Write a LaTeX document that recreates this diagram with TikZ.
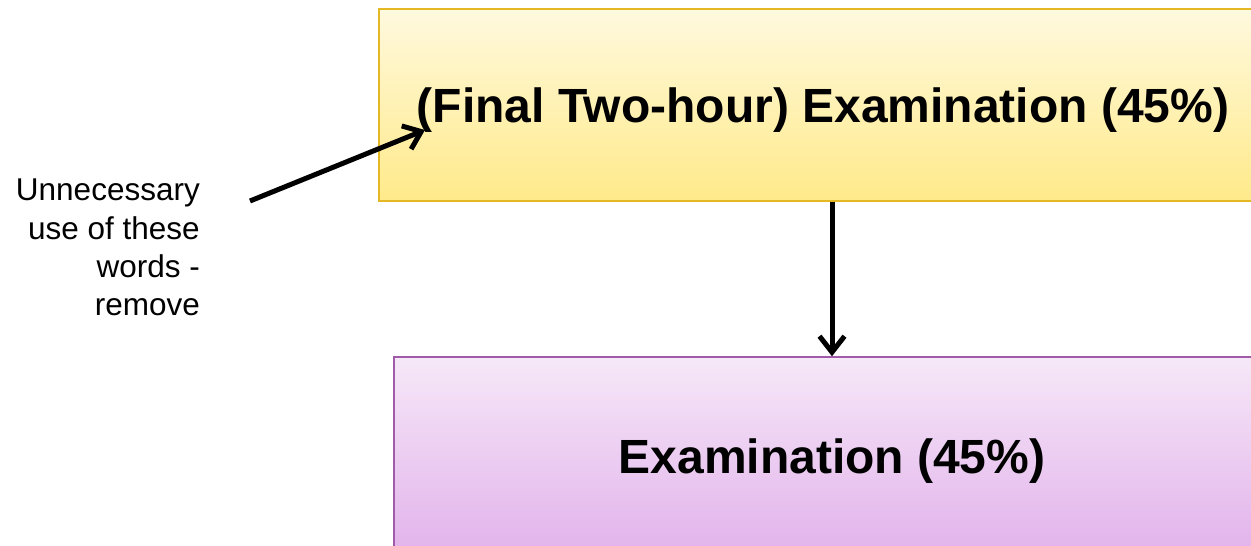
\documentclass[tikz,border=0pt]{standalone}
\usepackage{fontspec}
\setmainfont{Liberation Sans}
\usepackage{tikz}
\usetikzlibrary{arrows.meta,positioning}
\definecolor{ylwtop}{HTML}{FFF9DE}
\definecolor{ylwbot}{HTML}{FFEA8A}
\definecolor{ylwedge}{HTML}{E4B825}
\definecolor{plptop}{HTML}{F6E8F8}
\definecolor{plpbot}{HTML}{E2B2EB}
\definecolor{plpedge}{HTML}{A05CA8}
\tikzset{
stagebox/.style={rectangle, line width=1.5pt, inner sep=0pt,
text height=34pt, text depth=0pt,
font=\fontsize{48}{56}\selectfont\bfseries},
oldstage/.style={stagebox, draw=ylwedge, top color=ylwtop, bottom color=ylwbot},
newstage/.style={stagebox, draw=plpedge, top color=plptop, bottom color=plpbot},
flow/.style={line width=5pt, >={Straight Barb[length=16pt,width=25pt]}}
}
\begin{document}
\begin{tikzpicture}[x=1pt,y=-1pt]
\useasboundingbox (0,0) rectangle (1251,546);
\clip (0,0) rectangle (1251,546);
\node[oldstage, minimum width=888pt, minimum height=192pt] (oldexam) at (823,105)
{(Final Two-hour) Examination (45\%)};
\node[newstage, minimum width=876pt, minimum height=198pt] (newexam) at (832,456)
{Examination (45\%)};
\node[anchor=north east, inner sep=0pt, align=right,
font=\fontsize{31.5}{38.3}\selectfont] (note) at (200,179)
{Unnecessary\\use of these\\words -\\remove};
\coordinate (notetail) at (250,201);
\coordinate (notetip) at (425,130);
\draw[flow,->] (notetail) -- (notetip);
\draw[flow,->] (oldexam.south -| newexam.north) -- (newexam.north);
\end{tikzpicture}
\end{document}
